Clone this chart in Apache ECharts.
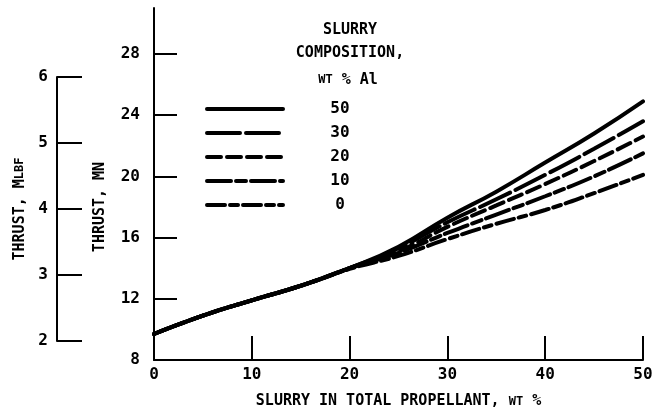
<!DOCTYPE html>
<html>
<head>
<meta charset="utf-8">
<script src="https://cdn.jsdelivr.net/npm/echarts@6/dist/echarts.min.js"></script>
<style>
  html, body { margin: 0; padding: 0; background: #fff; }
  #chart { width: 657px; height: 414px; }
</style>
</head>
<body>
<div id="chart"></div>
<script>
/* ===== data ===== */
const slurryPct = [0, 5, 10, 15, 20, 25, 30, 35, 40, 45, 50];
const thrust50 = [9.7, 10.9, 11.9, 12.85, 14.0, 15.4, 17.3, 19.0, 20.9, 22.8, 24.9];
const thrust30 = [9.7, 10.9, 11.9, 12.85, 14.0, 15.3, 17.0, 18.5, 20.1, 21.8, 23.6];
const thrust20 = [9.7, 10.9, 11.9, 12.85, 14.0, 15.1, 16.7, 18.1, 19.5, 21.0, 22.6];
const thrust10 = [9.7, 10.9, 11.9, 12.85, 14.0, 15.0, 16.3, 17.5, 18.7, 20.0, 21.5];
const thrust0 = [9.7, 10.9, 11.9, 12.85, 13.95, 14.8, 15.9, 16.9, 17.8, 18.9, 20.1];
const alNames = ["50", "30", "20", "10", "0"];
const mnTicks = [12, 16, 20, 24, 28];
const mnLabels = [8, 12, 16, 20, 24, 28];

const FONT = "'DejaVu Sans Mono', monospace";
const INK = "#000";

const chart = echarts.init(document.getElementById("chart"));

// line patterns: solid, long dash, short dash, long-short, long-short-short
const dashes = [null, [33, 6], [14, 6], [24, 5, 10, 5], [18, 5, 8, 5]];
const values = [thrust50, thrust30, thrust20, thrust10, thrust0];

const series = alNames.map((name, i) => ({
  name: name,
  type: "line",
  xAxisIndex: 0,
  yAxisIndex: 0,
  smooth: true,
  symbol: "none",
  data: slurryPct.map((x, k) => [x, values[i][k]]),
  lineStyle: {
    color: INK,
    width: 4,
    type: dashes[i] || "solid",
    cap: "round",
  },
  itemStyle: { color: INK },
}));

const axisText = { color: INK, fontFamily: FONT, fontSize: 16, fontWeight: "bold" };

chart.setOption({
  backgroundColor: "#fff",
  animation: false,
  grid: [
    { left: 154, right: 14, top: 8, bottom: 53 },
    { left: 57, width: 30, top: 77, bottom: 73 },
  ],
  xAxis: [
    {
      gridIndex: 0,
      type: "value",
      min: 0,
      max: 50,
      interval: 10,
      splitLine: { show: false },
      axisLine: { lineStyle: { color: INK, width: 2 } },
      axisTick: { inside: true, length: 24, lineStyle: { color: INK, width: 2 } },
      axisLabel: { ...axisText, margin: 7 },
      name: "SLURRY IN TOTAL PROPELLANT, {s|WT} %",
      nameLocation: "middle",
      nameGap: 34,
      nameTextStyle: {
        color: INK, fontFamily: FONT, fontSize: 15, fontWeight: "bold",
        rich: { s: { fontSize: 12, fontFamily: FONT, fontWeight: "bold", color: INK } },
      },
    },
    { gridIndex: 1, type: "value", show: false },
  ],
  yAxis: [
    {
      gridIndex: 0,
      type: "value",
      min: 8,
      max: 31,
      splitLine: { show: false },
      axisLine: { lineStyle: { color: INK, width: 2 } },
      axisTick: { inside: true, length: 23, customValues: mnTicks, lineStyle: { color: INK, width: 2 } },
      axisLabel: { ...axisText, margin: 14, customValues: mnLabels },
    },
    {
      gridIndex: 1,
      type: "value",
      min: 2,
      max: 6,
      interval: 1,
      splitLine: { show: false },
      axisLine: { lineStyle: { color: INK, width: 2 } },
      axisTick: { inside: true, length: 25, lineStyle: { color: INK, width: 2 } },
      axisLabel: { ...axisText, margin: 9 },
    },
  ],
  legend: {
    data: alNames,
    orient: "vertical",
    left: 200,
    top: 96,
    itemWidth: 76,
    itemHeight: 14,
    itemGap: 8,
    selectedMode: false,
    itemStyle: { color: "rgba(0,0,0,0)", opacity: 0, borderWidth: 0 },
    lineStyle: { color: INK, width: 4, cap: "round" },
    formatter: (n) => "{v|" + n + "}",
    textStyle: {
      color: INK,
      fontFamily: FONT,
      fontSize: 16,
      padding: [0, 0, 0, 41],
      rich: { v: { width: 22, align: "center", fontFamily: FONT, fontSize: 16, fontWeight: "bold", color: INK } },
    },
  },
  graphic: [
    {
      type: "text", x: 350, y: 30,
      style: {
        text: "SLURRY", font: "bold 15px " + FONT, fill: INK,
        align: "center", verticalAlign: "middle",
      },
    },
    {
      type: "text", x: 350, y: 53,
      style: {
        text: "COMPOSITION,", font: "bold 15px " + FONT, fill: INK,
        align: "center", verticalAlign: "middle",
      },
    },
    {
      type: "text", x: 348, y: 80,
      style: {
        text: "{s|WT} % Al",
        font: "bold 15px " + FONT, fill: INK,
        align: "center", verticalAlign: "middle",
        rich: { s: { fontSize: 12, fontFamily: FONT, fontWeight: "bold", fill: INK } },
      },
    },
    {
      type: "text", x: 100, y: 207, rotation: Math.PI / 2,
      style: {
        text: "THRUST, {b|MN}",
        font: "bold 15px " + FONT, fill: INK,
        align: "center", verticalAlign: "middle",
        rich: { b: { fontSize: 15, fontWeight: "bold", fontFamily: FONT, fill: INK } },
      },
    },
    {
      type: "text", x: 20, y: 209, rotation: Math.PI / 2,
      style: {
        text: "THRUST, M{s|LBF}",
        font: "bold 15px " + FONT, fill: INK,
        align: "center", verticalAlign: "middle",
        rich: { s: { fontSize: 12, fontFamily: FONT, fontWeight: "bold", fill: INK } },
      },
    },
  ],
  series: series,
});
</script>
</body>
</html>
